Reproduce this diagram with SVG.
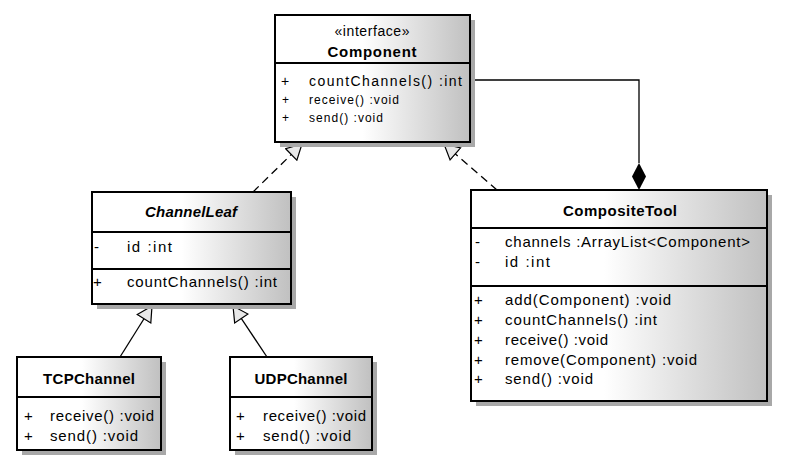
<svg xmlns="http://www.w3.org/2000/svg" width="791" height="472" viewBox="0 0 791 472">
<defs>
<linearGradient id="g" x1="0" y1="0" x2="1" y2="0">
<stop offset="0.45" stop-color="#ffffff"/>
<stop offset="1" stop-color="#c0c0c0"/>
</linearGradient>
<marker id="tri" viewBox="-1 -1 18 18" refX="15" refY="8" markerWidth="18" markerHeight="18" markerUnits="userSpaceOnUse" orient="auto">
<path d="M15,8 L0,0 L0,16 Z" fill="#e8e8e8" stroke="#000" stroke-width="1.2"/>
</marker>
</defs>
<style>
.sh{fill:#a8a8a8}
.bx{fill:url(#g);stroke:#000;stroke-width:2}
.dv{stroke:#000;stroke-width:2}
text{font-family:"Liberation Sans",Arial,sans-serif;fill:#000}
.t{font-size:15px;font-weight:bold;text-anchor:middle}
.m{font-size:15px}
.s{font-size:12px}
.c{stroke:#000;stroke-width:1.3;fill:none}
.d{stroke-dasharray:8,5}
</style>
<rect width="791" height="472" fill="#fff"/>
<g id="connectors">
<line class="c d" x1="253" y1="192" x2="302" y2="144" marker-end="url(#tri)"/>
<line class="c d" x1="497" y1="190" x2="444" y2="144" marker-end="url(#tri)"/>
<polyline class="c" points="470,80 639,80 639,163"/>
<polygon points="639,163 646,176.5 639,190 632,176.5" fill="#000"/>
<line class="c" x1="120" y1="357" x2="152" y2="306" marker-end="url(#tri)"/>
<line class="c" x1="267" y1="357" x2="233" y2="306" marker-end="url(#tri)"/>
</g>
<g id="Component">
<rect class="sh" x="280" y="20" width="195" height="127"/>
<rect class="bx" x="275" y="15" width="195" height="127"/>
<line class="dv" x1="275" y1="63" x2="470" y2="63"/>
<text x="372" y="36" font-size="14" text-anchor="middle" textLength="75" lengthAdjust="spacing">«interface»</text>
<text class="t" x="372" y="57" textLength="89" lengthAdjust="spacing">Component</text>
<text x="281" y="86" font-size="14">+</text>
<text x="309" y="86" font-size="14" textLength="153" lengthAdjust="spacing">countChannels()  :int</text>
<text class="s" x="282" y="104">+</text>
<text class="s" x="309" y="104" textLength="90" lengthAdjust="spacing">receive() :void</text>
<text class="s" x="282" y="122">+</text>
<text class="s" x="309" y="122" textLength="74" lengthAdjust="spacing">send() :void</text>
</g>
<g id="ChannelLeaf">
<rect class="sh" x="97" y="197" width="199" height="112"/>
<rect class="bx" x="92" y="192" width="199" height="112"/>
<line class="dv" x1="92" y1="232" x2="291" y2="232"/>
<line class="dv" x1="92" y1="269" x2="291" y2="269"/>
<text class="t" x="191" y="217" font-style="italic" textLength="92" lengthAdjust="spacing">ChannelLeaf</text>
<text class="m" x="94" y="252">-</text>
<text class="m" x="127" y="252" textLength="45" lengthAdjust="spacing">id  :int</text>
<text class="m" x="93" y="287">+</text>
<text class="m" x="127" y="287" textLength="150" lengthAdjust="spacing">countChannels()  :int</text>
</g>
<g id="CompositeTool">
<rect class="sh" x="476" y="195" width="296" height="211"/>
<rect class="bx" x="471" y="190" width="296" height="211"/>
<line class="dv" x1="471" y1="228" x2="767" y2="228"/>
<line class="dv" x1="471" y1="286" x2="767" y2="286"/>
<text class="t" x="620" y="216" textLength="114" lengthAdjust="spacing">CompositeTool</text>
<text class="m" x="475" y="247">-</text>
<text class="m" x="505" y="247" textLength="245" lengthAdjust="spacing">channels  :ArrayList&lt;Component&gt;</text>
<text class="m" x="475" y="267">-</text>
<text class="m" x="505" y="267" textLength="45" lengthAdjust="spacing">id  :int</text>
<text class="m" x="474" y="305">+</text>
<text class="m" x="505" y="305" textLength="166" lengthAdjust="spacing">add(Component) :void</text>
<text class="m" x="474" y="325">+</text>
<text class="m" x="505" y="325" textLength="152" lengthAdjust="spacing">countChannels() :int</text>
<text class="m" x="474" y="345">+</text>
<text class="m" x="505" y="345" textLength="103" lengthAdjust="spacing">receive() :void</text>
<text class="m" x="474" y="365">+</text>
<text class="m" x="505" y="365" textLength="192" lengthAdjust="spacing">remove(Component) :void</text>
<text class="m" x="474" y="384">+</text>
<text class="m" x="505" y="384" textLength="88" lengthAdjust="spacing">send() :void</text>
</g>
<g id="TCPChannel">
<rect class="sh" x="22" y="362" width="144" height="93"/>
<rect class="bx" x="17" y="357" width="144" height="93"/>
<line class="dv" x1="17" y1="397" x2="161" y2="397"/>
<text class="t" x="89" y="384" textLength="92" lengthAdjust="spacing">TCPChannel</text>
<text class="m" x="24" y="421">+</text>
<text class="m" x="50" y="421" textLength="104" lengthAdjust="spacing">receive() :void</text>
<text class="m" x="24" y="441">+</text>
<text class="m" x="50" y="441" textLength="88" lengthAdjust="spacing">send() :void</text>
</g>
<g id="UDPChannel">
<rect class="sh" x="235" y="362" width="142" height="93"/>
<rect class="bx" x="230" y="357" width="142" height="93"/>
<line class="dv" x1="230" y1="397" x2="372" y2="397"/>
<text class="t" x="301" y="384" textLength="93" lengthAdjust="spacing">UDPChannel</text>
<text class="m" x="236" y="421">+</text>
<text class="m" x="263" y="421" textLength="103" lengthAdjust="spacing">receive() :void</text>
<text class="m" x="236" y="441">+</text>
<text class="m" x="263" y="441" textLength="88" lengthAdjust="spacing">send() :void</text>
</g>
</svg>
